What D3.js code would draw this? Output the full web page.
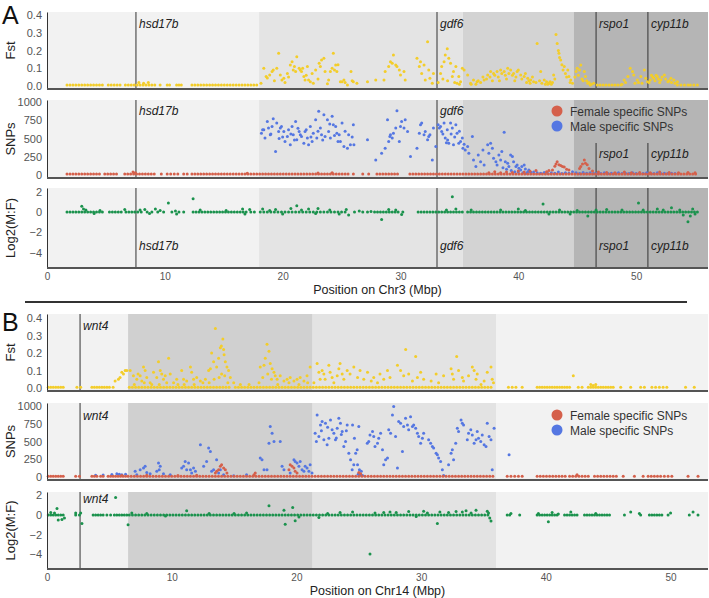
<!DOCTYPE html>
<html>
<head>
<meta charset="utf-8">
<script src="https://cdn.jsdelivr.net/npm/d3@7"></script>
<style>
  body { margin: 0; background: #fff; }
  text { font-family: Arial, "Liberation Sans", sans-serif; }
</style>
</head>
<body>
<div id="chart"></div>
<script>
// ---------- data (Mbp, value) ----------

// Panel A, chromosome 3
const regionBreaksA = [0, 18, 35.3, 44.7, 56.1];
const genesA = [
  { name: "hsd17b", pos: 7.55 },
  { name: "gdf6", pos: 33.1 },
  { name: "rspo1", pos: 46.6 },
  { name: "cyp11b", pos: 51.0 }
];

// Fst points sitting on the floor (value ~0.006)
const fstA_floor = [1.7,1.95,2.2,2.45,2.7,2.95,3.2,3.45,3.7,3.95,4.2,4.45,4.7,5.2,5.45,5.7,5.95,6.2,6.65,6.9,7.15,7.4,7.65,7.9,8.15,8.4,8.65,8.9,9.15,9.6,10.2,10.4,11.0,11.2,11.4,12.3,12.55,12.8,13.05,13.3,13.55,13.8,14.05,14.3,14.55,14.8,15.05,15.3,15.55,15.8,16.05,16.3,16.55,16.8,17.05,17.3,17.55,17.8,46.7,46.95,47.2,47.45,47.7,47.95,48.2,48.45,48.7,53.5,53.8,54.1,54.4,54.6,54.9,55.2];
const fstA = [[7.8,0.02],[8.2,0.015],[8.6,0.02],[18.16,0.015],[18.4,0.10],[18.6,0.053],[18.9,0.062],[19.1,0.081],[19.2,0.09],[19.5,0.10],[19.66,0.184],[19.8,0.062],[19.94,0.034],[20.1,0.043],[20.4,0.071],[20.65,0.118],[20.8,0.137],[20.9,0.09],[21.1,0.081],[21.2,0.165],[21.4,0.10],[21.5,0.09],[21.6,0.081],[21.8,0.053],[21.9,0.034],[22.1,0.11],[22.2,0.034],[22.35,0.024],[22.5,0.071],[22.8,0.09],[23.1,0.128],[23.2,0.11],[23.3,0.146],[23.5,0.156],[23.6,0.081],[23.9,0.034],[24.05,0.081],[24.2,0.10],[24.3,0.184],[24.5,0.118],[24.6,0.081],[24.9,0.024],[25.04,0.024],[25.2,0.034],[25.5,0.006],[25.8,0.081],[26.0,0.024],[26.3,0.015],[18.7,0.045],[19.3,0.03],[20.2,0.02],[20.5,0.05],[21.0,0.11],[21.7,0.10],[22.0,0.06],[22.6,0.015],[23.0,0.04],[23.8,0.012],[24.4,0.09],[24.7,0.12],[25.3,0.02],[25.9,0.03],[27.2,0.024],[27.9,0.034],[28.6,0.034],[28.7,0.081],[29.0,0.11],[29.15,0.137],[29.3,0.128],[29.4,0.175],[29.6,0.118],[29.7,0.11],[29.9,0.09],[30.0,0.062],[30.3,0.081],[30.4,0.034],[31.4,0.156],[31.6,0.11],[31.7,0.137],[31.8,0.071],[32.0,0.118],[32.1,0.034],[32.3,0.25],[32.4,0.09],[32.5,0.043],[32.7,0.015],[32.8,0.071],[33.4,0.071],[33.5,0.11],[33.7,0.137],[33.8,0.175],[33.97,0.21],[34.1,0.156],[34.25,0.128],[34.4,0.053],[34.5,0.081],[34.7,0.11],[34.8,0.015],[34.95,0.053],[35.1,0.024],[35.25,0.10],[33.2,0.02],[33.6,0.04],[34.0,0.03],[34.6,0.02],[35.0,0.01],[35.4,0.09],[35.7,0.062],[35.95,0.015],[36.2,0.034],[36.5,0.024],[37.1,0.034],[37.4,0.062],[37.65,0.081],[37.9,0.071],[38.2,0.081],[38.5,0.09],[38.8,0.081],[39.1,0.10],[39.35,0.09],[39.6,0.071],[39.9,0.081],[40.2,0.062],[40.5,0.053],[40.8,0.043],[41.05,0.034],[41.3,0.024],[41.6,0.24],[41.9,0.081],[42.2,0.034],[42.4,0.024],[42.7,0.024],[43.0,0.062],[43.2,0.29],[43.3,0.24],[43.45,0.184],[43.6,0.146],[43.9,0.11],[44.2,0.09],[44.3,0.053],[44.45,0.034],[44.6,0.015],[36.8,0.02],[37.0,0.05],[37.3,0.04],[37.6,0.05],[37.8,0.03],[38.0,0.06],[38.3,0.05],[38.6,0.07],[38.9,0.06],[39.0,0.04],[39.2,0.07],[39.5,0.06],[39.8,0.05],[40.0,0.09],[40.3,0.04],[40.6,0.07],[40.9,0.03],[41.2,0.05],[41.5,0.02],[41.8,0.03],[42.0,0.015],[42.5,0.01],[42.9,0.02],[43.1,0.04],[43.4,0.20],[43.5,0.16],[43.7,0.12],[43.8,0.09],[44.0,0.07],[44.1,0.05],[44.4,0.02],[36.0,0.01],[36.4,0.01],[36.6,0.03],[38.4,0.03],[39.7,0.03],[40.7,0.02],[41.0,0.015],[42.3,0.01],[42.6,0.015],[42.8,0.01],[44.9,0.081],[45.0,0.10],[45.2,0.09],[45.3,0.118],[45.6,0.081],[45.7,0.053],[45.9,0.015],[46.1,0.006],[46.4,0.015],[44.8,0.05],[45.1,0.06],[45.4,0.04],[45.5,0.03],[45.8,0.03],[46.0,0.02],[46.2,0.01],[48.98,0.034],[49.3,0.053],[49.5,0.10],[49.7,0.081],[49.8,0.062],[50.1,0.034],[50.4,0.053],[50.7,0.09],[50.8,0.043],[50.97,0.024],[48.8,0.01],[49.1,0.02],[49.9,0.015],[50.2,0.02],[50.5,0.015],[51.2,0.034],[51.5,0.043],[51.8,0.053],[52.1,0.034],[52.4,0.062],[52.7,0.024],[52.95,0.043],[53.2,0.034],[53.5,0.024],[51.1,0.02],[51.4,0.05],[51.6,0.03],[51.9,0.04],[52.2,0.05],[52.5,0.04],[52.8,0.03],[53.0,0.02],[53.3,0.015],[51.3,0.06],[51.7,0.06],[52.0,0.02]];

// Female specific SNPs on the floor (~14)
const femA_floor = [1.7,1.95,2.2,2.45,2.7,2.95,3.2,3.45,3.7,3.95,4.2,4.45,4.9,5.15,5.4,5.65,5.9,6.6,6.85,7.1,7.35,7.6,7.85,8.1,8.35,8.6,8.85,9.1,9.7,10.2,10.5,10.8,11.1,11.6,11.9,12.3,12.55,12.8,13.05,13.3,13.55,13.8,14.05,14.3,14.55,14.8,15.05,15.3,15.55,15.8,16.05,16.3,16.55,16.8,17.05,17.3,17.55,17.8,18.05,18.3,18.55,18.8,19.05,19.3,19.55,19.8,20.05,20.3,20.55,20.8,21.05,21.3,21.55,21.8,22.05,22.3,22.55,22.8,23.05,23.3,23.55,23.8,24.05,24.3,24.55,24.8,25.05,25.3,25.55,26.0,26.8,27.3,28.0,28.25,28.5,28.75,29.0,29.25,29.5,29.75,30.8,31.05,31.3,31.55,31.8,32.05,32.3,32.55,32.8,33.05,33.3,33.55,33.8,34.05,34.3,34.55,34.8,35.05,35.3,35.55,35.8,36.05,36.3,36.55,36.8,37.05,37.3,37.55,37.8,38.05,38.3,38.55,38.8,39.05,39.3,39.55,39.8,40.05,40.3,40.55,40.8,41.05,41.3,41.55,41.8,42.05,42.3,42.55,42.8,43.05,43.3,43.55,43.8,44.05,44.3,44.55,44.8,45.05,45.3,45.55,45.8,46.05,46.3,46.55,46.8,47.05,47.3,47.55,47.8,48.05,48.3,48.55,48.8,49.05,49.3,49.55,49.8,50.05,50.3,50.55,50.8,51.05,51.3,51.55,51.8,52.05,52.3,52.55,52.8,53.05,53.3,53.55,53.8,54.05,54.3,54.55,54.8,55.05];
const femA = [[7.3,40],[7.5,30],[17.0,25],[23.0,28],[24.2,30],[37.5,30],[38.0,45],[38.5,30],[39.0,40],[39.5,35],[40.0,55],[40.5,40],[41.0,50],[41.5,60],[42.4,45],[42.6,60],[42.9,70],[43.1,120],[43.2,150],[43.3,183],[43.45,140],[43.6,130],[43.75,115],[43.9,110],[44.1,80],[44.3,70],[45.2,90],[45.3,115],[45.45,150],[45.6,206],[45.7,160],[45.85,140],[46.0,90],[46.3,55],[46.8,40],[47.5,35],[48.2,30],[49.0,40],[49.6,30],[50.3,35],[51.2,30],[52.0,40],[52.8,35],[53.6,30],[54.4,35],[55.0,30]];

const maleA = [[18.2,573],[18.4,619],[18.5,505],[18.7,734],[18.8,642],[18.95,550],[19.1,665],[19.2,771],[19.4,321],[19.5,711],[19.66,596],[19.8,642],[19.9,665],[20.1,596],[20.2,459],[20.4,527],[20.5,619],[20.65,413],[20.8,665],[20.9,550],[21.1,734],[21.2,482],[21.4,596],[21.5,550],[21.6,527],[21.8,436],[21.9,596],[22.1,505],[22.2,413],[22.35,665],[22.5,459],[22.6,573],[22.8,757],[22.9,505],[23.06,872],[23.2,642],[23.3,550],[23.5,826],[23.6,527],[23.8,757],[23.9,596],[24.05,505],[24.2,803],[24.3,688],[24.5,665],[24.6,573],[24.8,550],[24.9,459],[25.04,711],[25.2,390],[25.5,367],[25.6,550],[25.75,413],[26.0,688],[18.3,620],[19.0,560],[19.7,500],[20.0,520],[20.7,560],[21.0,480],[21.3,640],[22.0,620],[22.4,520],[23.0,600],[23.4,480],[24.0,700],[24.4,540],[24.7,460],[25.3,600],[25.9,520],[26.05,413],[27.2,482],[27.9,206],[28.4,298],[28.7,367],[28.9,757],[29.0,459],[29.1,527],[29.15,550],[29.3,505],[29.4,573],[29.6,642],[29.7,881],[29.9,459],[30.0,665],[30.1,734],[30.3,642],[30.4,757],[30.6,596],[30.85,252],[31.4,367],[31.6,573],[31.7,688],[31.8,711],[32.0,550],[32.1,596],[32.3,482],[32.4,527],[32.5,550],[32.7,206],[32.8,642],[33.0,390],[33.2,688],[33.3,642],[33.4,665],[33.5,596],[33.7,711],[33.8,505],[33.97,619],[34.1,436],[34.25,711],[34.4,642],[34.5,413],[34.7,688],[34.8,573],[34.95,436],[35.1,459],[35.25,505],[35.3,367],[35.5,344],[35.7,390],[35.8,298],[36.1,527],[36.2,206],[36.4,115],[33.6,560],[34.0,480],[34.6,520],[35.0,600],[35.4,420],[33.9,440],[34.3,560],[36.6,275],[36.8,183],[37.0,344],[37.1,138],[37.4,413],[37.5,298],[37.65,436],[37.8,367],[37.9,229],[38.1,183],[38.2,138],[38.35,275],[38.5,206],[38.6,321],[38.8,587],[38.9,183],[39.1,160],[39.2,115],[39.35,275],[39.5,252],[39.6,183],[39.8,115],[39.9,138],[40.05,92],[40.2,69],[40.3,115],[40.5,138],[40.6,83],[40.8,46],[40.9,69],[41.05,37],[41.3,40],[41.6,30],[41.9,25],[42.2,35],[42.5,20],[42.8,30],[43.1,25],[43.4,40],[43.7,20],[44.0,30],[44.3,25],[44.6,45],[44.9,30],[45.2,20],[45.5,35],[45.8,25],[46.1,30],[46.4,20],[46.7,25],[47.0,20],[47.3,30],[47.6,20],[47.9,25],[48.2,20],[48.5,30],[48.8,20],[49.1,25],[49.4,20],[49.7,30],[50.0,20],[50.3,25],[50.6,20],[50.9,30],[51.2,25],[51.5,20],[51.8,30],[52.1,20],[52.4,25],[52.7,20],[53.0,25],[53.3,20],[40.0,40],[40.4,30],[40.7,25],[39.4,60],[39.7,45],[39.0,80],[38.7,100]];

// log2(M:F) points on the zero line, then the ones off it
const lgA_zero = [1.7,1.95,2.2,2.45,2.7,2.95,3.2,3.45,3.7,3.95,4.2,4.45,4.7,5.3,5.55,5.8,6.05,6.3,6.7,6.95,7.2,7.45,7.7,8.0,8.5,8.9,9.4,9.9,10.6,11.2,11.6,12.4,12.65,12.9,13.15,13.4,13.65,13.9,14.15,14.4,14.65,14.9,15.15,15.4,15.65,15.9,16.15,16.4,16.65,16.9,17.3,17.6,18.1,18.4,18.7,19.0,19.3,19.6,19.9,20.2,20.5,20.8,21.1,21.4,21.7,22.0,22.3,22.6,22.9,23.2,23.5,23.8,24.1,24.4,24.7,25.0,25.3,26.1,26.8,27.2,27.8,28.05,28.3,28.55,28.8,29.05,29.3,29.55,29.8,30.2,31.5,31.75,32.0,32.25,32.5,32.75,33.0,33.25,33.5,33.75,34.0,34.25,34.5,34.75,35.0,35.25,35.7,35.95,36.2,36.45,36.7,36.95,37.2,37.45,37.7,37.95,38.2,38.45,38.7,38.95,39.2,39.45,39.7,39.95,40.2,40.45,40.7,40.95,41.2,41.45,41.7,41.95,42.2,42.45,42.7,42.95,43.2,43.45,43.7,43.95,44.2,44.45,44.7,44.95,45.2,45.45,45.7,45.95,46.2,46.45,46.7,46.95,47.2,47.45,47.7,47.95,48.2,48.45,48.7,48.95,49.2,49.45,49.7,49.95,50.2,50.45,50.7,50.95,51.2,51.45,51.7,51.95,52.2,52.45,52.7,52.95,53.2,53.45,53.7,53.95,54.2,54.45,54.7,54.95,55.2];
const lgA = [[2.95,0.55],[3.1,0.3],[3.3,0.2],[4.0,-0.15],[4.5,0.15],[6.6,0.25],[7.9,0.2],[8.3,0.25],[8.7,-0.15],[9.2,0.3],[9.6,0.15],[10.3,0.87],[10.9,0.1],[11.0,-0.2],[12.4,1.3],[13.0,0.2],[15.2,0.15],[16.6,0.3],[16.8,-0.2],[17.2,0.25],[18.3,0.3],[18.9,0.15],[19.4,0.25],[20.0,-0.2],[20.7,0.35],[21.2,0.6],[21.6,0.2],[22.2,0.3],[22.8,-0.15],[23.0,0.35],[24.0,0.2],[24.8,-0.2],[25.4,0.25],[25.6,-0.3],[26.5,0.1],[27.5,0.05],[28.4,-0.74],[29.0,0.25],[29.6,0.2],[30.1,-0.25],[34.4,1.5],[33.9,0.2],[34.7,0.3],[36.0,0.2],[38.5,0.2],[40.0,0.3],[40.6,0.15],[42.1,0.77],[42.6,-0.2],[43.5,0.2],[44.4,-0.2],[45.0,0.15],[45.9,-0.4],[46.6,0.2],[47.5,0.25],[48.8,0.2],[50.2,0.87],[50.6,0.2],[51.8,0.3],[52.3,0.2],[53.0,0.4],[53.7,0.2],[54.0,-0.3],[54.4,-0.97],[54.6,-0.4],[54.8,0.3],[55.0,-0.2]];

// Panel B, chromosome 14
const regionBreaksB = [0, 6.5, 21.3, 36.0, 53.0];
const genesB = [{ name: "wnt4", pos: 2.65 }];

const fstB_floor = [0.1,0.3,0.5,0.7,0.9,1.1,1.3,2.4,2.7,3.6,3.8,4.0,4.2,4.4,4.6,4.8,5.0,5.3,6.6,6.85,7.1,7.35,7.6,7.85,8.1,8.35,8.6,8.85,9.1,9.35,9.6,9.85,10.1,10.35,10.6,10.85,11.1,11.35,11.6,11.85,12.1,12.35,12.6,12.85,13.1,13.35,13.6,13.85,14.1,14.35,14.6,15.1,15.35,15.6,15.85,16.1,16.35,16.6,16.85,17.1,17.35,17.6,17.85,18.1,18.35,18.6,18.85,19.1,19.35,19.6,19.85,20.1,20.35,20.6,20.85,21.1,21.35,21.6,21.85,22.1,22.35,22.6,22.85,23.1,23.35,23.6,23.85,24.1,24.35,24.6,24.85,25.1,25.35,25.6,25.85,26.1,26.35,26.6,26.85,27.1,27.35,27.6,27.85,28.1,28.35,28.6,28.85,29.1,29.35,29.6,29.85,30.1,30.35,30.6,30.85,31.1,31.35,31.6,31.85,32.1,32.35,32.6,32.85,33.1,33.35,33.6,33.85,34.1,34.35,34.6,34.85,35.1,35.35,35.6,37.0,37.3,37.6,38.1,39.3,39.5,39.7,39.9,40.1,40.3,40.5,40.7,40.9,41.1,41.3,41.5,41.7,41.9,42.6,42.9,43.4,43.6,43.8,44.0,44.2,44.4,44.6,44.8,45.0,45.2,45.4,46.0,46.8,47.6,47.9,48.5,48.8,49.1,49.4,49.7,51.2,51.9];
const fstB = [[5.46,0.04],[5.73,0.05],[5.86,0.06],[6.0,0.09],[6.13,0.08],[6.27,0.10],[6.4,0.10],[6.67,0.10],[6.93,0.07],[7.2,0.05],[7.3,0.08],[7.47,0.07],[7.6,0.04],[7.74,0.12],[7.87,0.10],[8.0,0.06],[8.27,0.03],[8.54,0.09],[8.8,0.06],[8.94,0.15],[9.08,0.10],[9.2,0.08],[9.34,0.05],[9.48,0.07],[9.75,0.17],[9.88,0.08],[10.15,0.03],[10.4,0.05],[10.8,0.10],[10.95,0.05],[11.2,0.04],[11.5,0.12],[11.6,0.09],[11.75,0.05],[12.0,0.06],[12.3,0.04],[12.7,0.05],[12.96,0.10],[13.1,0.11],[13.2,0.20],[13.36,0.15],[13.5,0.34],[13.6,0.12],[13.76,0.17],[13.9,0.23],[13.98,0.24],[14.1,0.28],[14.16,0.22],[14.2,0.19],[14.3,0.15],[14.43,0.12],[14.56,0.10],[14.7,0.06],[14.97,0.03],[17.1,0.12],[17.4,0.13],[17.5,0.17],[17.64,0.25],[17.8,0.21],[17.9,0.14],[18.05,0.11],[18.2,0.09],[18.3,0.07],[18.45,0.05],[18.7,0.07],[19.0,0.04],[19.25,0.05],[19.5,0.06],[19.8,0.04],[20.05,0.05],[20.3,0.06],[20.6,0.04],[20.85,0.07],[21.1,0.12],[21.4,0.03],[21.66,0.14],[21.8,0.09],[21.9,0.05],[22.06,0.10],[22.2,0.08],[22.3,0.05],[22.6,0.13],[22.7,0.09],[22.86,0.06],[23.0,0.03],[23.27,0.07],[23.4,0.11],[23.5,0.14],[23.67,0.08],[23.8,0.05],[24.07,0.10],[24.3,0.08],[24.6,0.12],[24.9,0.06],[25.1,0.10],[25.4,0.05],[25.7,0.09],[26.0,0.04],[26.2,0.06],[26.5,0.03],[26.7,0.08],[27.0,0.05],[27.3,0.10],[27.5,0.06],[28.1,0.13],[28.35,0.10],[28.6,0.07],[28.76,0.22],[29.0,0.08],[29.3,0.04],[29.56,0.18],[29.7,0.06],[29.96,0.09],[30.2,0.05],[30.8,0.04],[31.2,0.08],[31.4,0.03],[31.8,0.07],[32.4,0.11],[32.5,0.08],[32.6,0.05],[32.85,0.18],[33.0,0.10],[33.3,0.06],[33.4,0.04],[33.8,0.07],[34.1,0.12],[34.25,0.10],[34.4,0.05],[34.5,0.08],[34.8,0.02],[35.05,0.04],[35.3,0.09],[35.6,0.12],[35.7,0.05],[35.8,0.03],[42.2,0.07],[43.6,0.02],[43.8,0.015],[44.0,0.02],[7.0,0.02],[7.8,0.03],[8.4,0.02],[9.0,0.02],[9.6,0.03],[10.5,0.02],[11.0,0.02],[11.8,0.02],[12.5,0.03],[13.0,0.03],[13.4,0.05],[13.8,0.06],[14.0,0.08],[14.25,0.07],[14.5,0.03],[15.5,0.02],[16.2,0.02],[17.0,0.03],[17.3,0.06],[17.7,0.08],[18.0,0.05],[18.5,0.02],[19.4,0.03],[20.2,0.02],[20.9,0.03]];

const femB_floor = [0.1,0.3,0.5,0.7,0.9,1.1,1.3,2.3,2.6,3.6,3.8,4.0,4.3,4.5,4.9,5.1,5.3,5.5,5.7,5.9,6.1,6.3,6.5,6.75,7.0,7.25,7.5,7.75,8.0,8.25,8.5,8.75,9.0,9.25,9.5,9.75,10.0,10.25,10.5,10.75,11.0,11.25,11.5,11.75,12.0,12.25,12.5,12.75,13.0,13.25,13.5,13.75,14.0,14.25,14.5,14.75,15.0,15.25,15.5,15.75,16.0,16.25,16.5,16.75,17.0,17.25,17.5,17.75,18.0,18.25,18.5,18.75,19.0,19.25,19.5,19.75,20.0,20.25,20.5,20.75,21.0,21.25,21.5,21.75,22.0,22.25,22.5,22.75,23.0,23.25,23.5,23.75,24.0,24.25,24.5,24.75,25.0,25.25,25.5,25.75,26.0,26.25,26.5,26.75,27.0,27.25,27.5,27.75,28.0,28.25,28.5,28.75,29.0,29.25,29.5,29.75,30.0,30.25,30.5,30.75,31.0,31.25,31.5,31.75,32.0,32.25,32.5,32.75,33.0,33.25,33.5,33.75,34.0,34.25,34.5,34.75,35.0,35.25,35.5,35.75,36.9,37.2,37.5,37.8,38.1,39.3,39.55,39.8,40.05,40.3,40.55,40.8,41.05,41.3,41.55,41.9,42.15,42.4,42.65,42.9,43.15,43.4,43.9,44.15,44.4,44.65,44.9,45.15,45.4,45.65,46.2,47.1,47.8,48.2,48.45,48.7,48.95,49.2,49.5,49.8,50.1,51.4,52.2];
const femB = [[6.0,20],[8.0,25],[10.5,20],[12.0,25],[13.5,56],[13.6,80],[13.76,103],[13.9,150],[14.0,173],[14.16,126],[14.3,103],[14.43,56],[16.6,33],[16.7,56],[19.4,103],[19.5,173],[19.65,150],[19.8,126],[19.9,80],[20.05,56],[25.0,65],[25.15,47],[42.5,33]];

const maleB = [[3.9,25],[4.5,30],[5.2,35],[5.6,47],[5.8,40],[6.0,33],[6.3,40],[7.07,80],[7.2,33],[7.47,103],[7.74,126],[7.87,150],[8.0,65],[8.27,47],[8.8,80],[8.94,196],[9.0,103],[9.08,150],[9.34,47],[9.88,33],[10.8,126],[10.95,150],[11.08,220],[11.2,103],[11.35,196],[11.5,103],[11.6,56],[11.75,126],[11.9,80],[12.3,453],[12.56,150],[12.8,220],[12.96,407],[13.1,360],[13.2,80],[13.36,103],[13.6,243],[13.76,56],[13.9,103],[14.16,33],[14.97,19],[16.0,33],[17.1,266],[17.24,243],[17.4,103],[17.64,103],[17.8,477],[17.9,710],[18.05,617],[18.2,500],[18.7,500],[18.85,150],[19.0,103],[19.5,56],[19.8,243],[19.9,220],[20.05,196],[20.2,150],[20.3,220],[20.45,103],[20.6,80],[20.7,150],[20.85,126],[21.0,80],[21.1,173],[21.25,56],[21.5,617],[21.66,874],[21.8,570],[21.93,734],[22.06,780],[22.2,523],[22.33,757],[22.46,453],[22.6,547],[22.73,804],[22.86,664],[23.0,617],[23.13,523],[23.27,687],[23.4,827],[23.53,757],[23.67,640],[23.8,430],[23.94,500],[24.07,734],[24.2,336],[24.34,243],[24.47,103],[24.6,173],[24.87,383],[25.0,710],[21.6,500],[22.0,650],[22.5,700],[23.2,550],[23.6,600],[24.0,650],[24.5,734],[24.65,547],[24.75,336],[24.9,173],[25.05,103],[25.2,80],[25.68,477],[25.8,500],[25.9,593],[26.1,640],[26.2,570],[26.3,430],[26.5,477],[26.6,547],[26.75,617],[26.9,383],[27.0,173],[27.15,243],[27.3,266],[27.4,664],[27.55,617],[27.7,874],[27.8,991],[27.95,570],[28.1,126],[28.2,780],[28.35,757],[28.5,360],[28.6,710],[28.75,827],[28.9,734],[29.0,664],[29.15,850],[29.3,710],[29.4,734],[29.56,687],[29.7,617],[29.8,570],[29.96,477],[30.1,547],[30.2,617],[30.6,523],[30.76,477],[30.9,430],[31.0,407],[31.2,336],[31.3,313],[31.4,266],[31.56,220],[31.7,103],[31.8,20],[32.2,173],[32.4,336],[32.5,383],[32.6,243],[32.77,477],[32.9,687],[33.0,640],[33.2,804],[33.3,757],[33.4,734],[33.7,523],[33.8,617],[33.98,664],[34.1,593],[34.25,477],[34.4,523],[34.5,640],[34.6,547],[34.78,500],[34.9,593],[35.05,453],[35.2,430],[35.3,757],[35.45,570],[35.6,523],[35.7,103],[35.85,687],[37.05,313],[24.95,40],[25.1,30],[25.3,20]];

const lgB_zero = [0.1,0.3,0.5,0.7,0.9,1.1,1.3,2.3,2.6,3.7,3.9,4.1,4.3,4.5,4.8,5.1,5.4,5.6,5.8,6.0,6.2,6.4,6.6,6.85,7.1,7.35,7.6,7.85,8.1,8.35,8.6,8.85,9.1,9.35,9.6,9.85,10.1,10.35,10.6,10.85,11.1,11.35,11.6,11.85,12.1,12.35,12.6,12.85,13.1,13.35,13.6,13.85,14.1,14.35,14.6,14.85,15.1,15.35,15.6,15.85,16.1,16.35,16.6,16.85,17.1,17.35,17.6,17.85,18.1,18.35,18.6,18.85,19.1,19.35,19.6,19.85,20.1,20.35,20.6,20.85,21.1,21.35,21.6,21.85,22.1,22.35,22.6,22.85,23.1,23.35,23.6,23.85,24.1,24.35,24.6,24.85,25.1,25.35,25.6,25.85,26.1,26.35,26.6,26.85,27.1,27.35,27.6,27.85,28.1,28.35,28.6,28.85,29.1,29.35,29.6,29.85,30.1,30.35,30.6,30.85,31.1,31.35,31.6,31.85,32.1,32.35,32.6,32.85,33.1,33.35,33.6,33.85,34.1,34.35,34.6,34.85,35.1,35.35,36.9,37.1,37.9,39.3,39.5,39.7,39.9,40.1,40.3,40.5,40.7,40.9,41.5,41.7,41.9,42.1,42.3,42.5,43.1,43.3,43.5,43.7,43.9,44.1,44.3,44.5,44.7,44.9,45.1,46.3,47.6,48.3,48.5,48.7,48.9,49.1,49.3,49.8,51.5,52.2];
const lgB = [[0.3,0.25],[0.6,0.2],[0.8,0.68],[0.9,-0.5],[1.2,-0.45],[1.4,-0.3],[2.3,0.2],[2.7,0.2],[2.8,-0.85],[5.5,1.8],[6.5,-1.0],[6.8,0.2],[8.0,0.15],[9.5,-0.1],[11.2,0.44],[13.0,0.15],[15.0,0.15],[16.0,0.2],[17.8,0.95],[19.0,0.5],[19.1,-0.95],[19.7,0.78],[19.9,-0.58],[20.2,-0.2],[21.8,-0.25],[22.5,0.15],[23.5,0.25],[24.5,0.3],[25.9,-3.97],[26.3,0.2],[27.0,0.25],[27.5,0.3],[28.0,0.25],[29.0,0.35],[29.6,-0.15],[30.2,0.4],[30.5,0.2],[31.3,-0.85],[31.5,0.3],[32.2,0.25],[32.8,0.35],[33.3,0.3],[33.6,0.45],[34.0,0.2],[34.4,0.5],[35.3,0.4],[35.5,-0.3],[35.6,-0.6],[35.4,0.2],[37.2,0.15],[39.4,0.15],[40.2,-0.68],[40.5,0.25],[41.0,0.1],[42.0,0.3],[44.0,0.15],[46.8,0.3],[47.5,0.15],[50.0,0.2],[51.8,0.3]];

const xTicks = [0, 10, 20, 30, 40, 50];
const fstTicks = [0, 0.1, 0.2, 0.3, 0.4];
const snpTicks = [0, 250, 500, 750, 1000];
const lgTicks = [-4, -2, 0, 2];
const legendLabels = ["Female specific SNPs", "Male specific SNPs"];

// ---------- styles ----------
const YELLOW = "#f3cd2a", RED = "#d5604b", BLUE = "#5577e2", GREEN = "#1b924d";
const shadesA = ["#f2f2f2", "#e4e4e4", "#d3d3d3", "#b5b5b5"];
const shadesB = ["#f2f2f2", "#d0d0d0", "#e3e3e3", "#f2f2f2"];
const R = 1.5;

const svg = d3.select("#chart").append("svg")
  .attr("width", 709).attr("height", 598);

const xA = d3.scaleLinear().domain([0, 56.1]).range([47, 708]);
const xB = d3.scaleLinear().domain([0, 53.0]).range([47, 708]);

function floor(xs, v) { return xs.map(d => [d, v]); }

// one strip: background bands, axes, gene lines, dots
function strip(o) {
  const g = svg.append("g");
  const y = d3.scaleLinear().domain(o.domain).range([o.bottom, o.top]);

  for (let i = 0; i < o.breaks.length - 1; i++) {
    g.append("rect")
      .attr("x", o.x(o.breaks[i]))
      .attr("y", o.top)
      .attr("width", o.x(o.breaks[i + 1]) - o.x(o.breaks[i]))
      .attr("height", o.bottom - o.top)
      .attr("fill", o.shades[i]);
  }

  o.genes.forEach(gn => {
    const y0 = gn.lineTop !== undefined ? gn.lineTop : o.top;
    g.append("line")
      .attr("x1", o.x(gn.pos)).attr("x2", o.x(gn.pos))
      .attr("y1", y0).attr("y2", o.bottom)
      .attr("stroke", "#333").attr("stroke-width", 1);
    g.append("text")
      .attr("x", o.x(gn.pos) + 3).attr("y", gn.labelY)
      .attr("font-size", 12).attr("font-style", "italic")
      .attr("fill", "#222")
      .text(gn.name);
  });

  o.series.forEach(s => {
    g.append("g").selectAll("circle")
      .data(s.data)
      .join("circle")
      .attr("cx", d => o.x(d[0]))
      .attr("cy", d => y(d[1]))
      .attr("r", R)
      .attr("fill", s.color);
  });

  // y axis
  const yAxis = g.append("g").attr("transform", "translate(" + o.x(o.x.domain()[0]) + ",0)")
    .call(d3.axisLeft(y).tickValues(o.ticks).tickFormat(o.fmt).tickSize(0).tickPadding(5));
  yAxis.select(".domain").attr("stroke", "#333");
  yAxis.selectAll("text").attr("font-size", 11).attr("fill", "#555").attr("font-family", null);

  // bottom line
  g.append("line")
    .attr("x1", o.x.range()[0]).attr("x2", o.x.range()[1])
    .attr("y1", o.bottom).attr("y2", o.bottom)
    .attr("stroke", "#555").attr("stroke-width", 2);

  g.append("text")
    .attr("transform", "translate(15," + (o.top + o.bottom) / 2 + ") rotate(-90)")
    .attr("text-anchor", "middle")
    .attr("font-size", 13).attr("fill", "#222")
    .text(o.title);

  return { g, y };
}

function legend(x0, y0) {
  [RED, BLUE].forEach((c, i) => {
    svg.append("circle").attr("cx", x0).attr("cy", y0 + i * 15).attr("r", 5.5).attr("fill", c);
    svg.append("text").attr("x", x0 + 13).attr("y", y0 + i * 15 + 4.5)
      .attr("font-size", 12).attr("fill", "#333").text(legendLabels[i]);
  });
}

function xAxis(x, yPos, label, labelY) {
  const ax = svg.append("g").attr("transform", "translate(0," + yPos + ")")
    .call(d3.axisBottom(x).tickValues(xTicks).tickSize(0).tickPadding(3));
  ax.select(".domain").remove();
  ax.selectAll("text").attr("font-size", 10).attr("fill", "#555").attr("font-family", null);
  svg.append("text")
    .attr("x", (x.range()[0] + x.range()[1]) / 2).attr("y", labelY)
    .attr("text-anchor", "middle").attr("font-size", 12.5).attr("fill", "#222")
    .text(label);
}

const f1 = d3.format(".1f"), f0 = d3.format("d");

// ---------- panel A ----------
strip({
  x: xA, top: 12, bottom: 89, domain: [-0.017, 0.417], breaks: regionBreaksA, shades: shadesA,
  genes: genesA.map(d => ({ ...d, labelY: 28 })),
  ticks: fstTicks, fmt: f1, title: "Fst",
  series: [{ data: floor(fstA_floor, 0.006).concat(fstA), color: YELLOW }]
});
strip({
  x: xA, top: 100, bottom: 178, domain: [-41, 1027], breaks: regionBreaksA, shades: shadesA,
  genes: genesA.map((d, i) => i < 2 ? { ...d, labelY: 115 } : { ...d, labelY: 158, lineTop: 143 }),
  ticks: snpTicks, fmt: f0, title: "SNPs",
  series: [
    { data: maleA, color: BLUE },
    { data: floor(femA_floor, 14).concat(femA), color: RED }
  ]
});
legend(557, 111);
strip({
  x: xA, top: 188, bottom: 268, domain: [-5.5, 2.35], breaks: regionBreaksA, shades: shadesA,
  genes: genesA.map(d => ({ ...d, labelY: 250 })),
  ticks: lgTicks, fmt: f0, title: "Log2(M:F)",
  series: [{ data: floor(lgA_zero, 0).concat(lgA), color: GREEN }]
});
xAxis(xA, 270, "Position on Chr3 (Mbp)", 294);

// separator between the two figures
svg.append("line").attr("x1", 25).attr("x2", 687).attr("y1", 302).attr("y2", 302)
  .attr("stroke", "#333").attr("stroke-width", 2);

// ---------- panel B ----------
strip({
  x: xB, top: 314, bottom: 391, domain: [-0.017, 0.423], breaks: regionBreaksB, shades: shadesB,
  genes: genesB.map(d => ({ ...d, labelY: 330 })),
  ticks: fstTicks, fmt: f1, title: "Fst",
  series: [{ data: floor(fstB_floor, 0.004).concat(fstB), color: YELLOW }]
});
strip({
  x: xB, top: 403, bottom: 480, domain: [-42, 1042], breaks: regionBreaksB, shades: shadesB,
  genes: genesB.map(d => ({ ...d, labelY: 420 })),
  ticks: snpTicks, fmt: f0, title: "SNPs",
  series: [
    { data: maleB, color: BLUE },
    { data: floor(femB_floor, 10).concat(femB), color: RED }
  ]
});
legend(557, 415);
strip({
  x: xB, top: 492, bottom: 569, domain: [-5.5, 2.35], breaks: regionBreaksB, shades: shadesB,
  genes: genesB.map(d => ({ ...d, labelY: 503 })),
  ticks: lgTicks, fmt: f0, title: "Log2(M:F)",
  series: [{ data: floor(lgB_zero, 0).concat(lgB), color: GREEN }]
});
xAxis(xB, 571, "Position on Chr14 (Mbp)", 595);

// panel letters
svg.append("text").attr("x", 2).attr("y", 24).attr("font-size", 25).attr("fill", "#111").text("A");
svg.append("text").attr("x", 2).attr("y", 331).attr("font-size", 25).attr("fill", "#111").text("B");
</script>
</body>
</html>
